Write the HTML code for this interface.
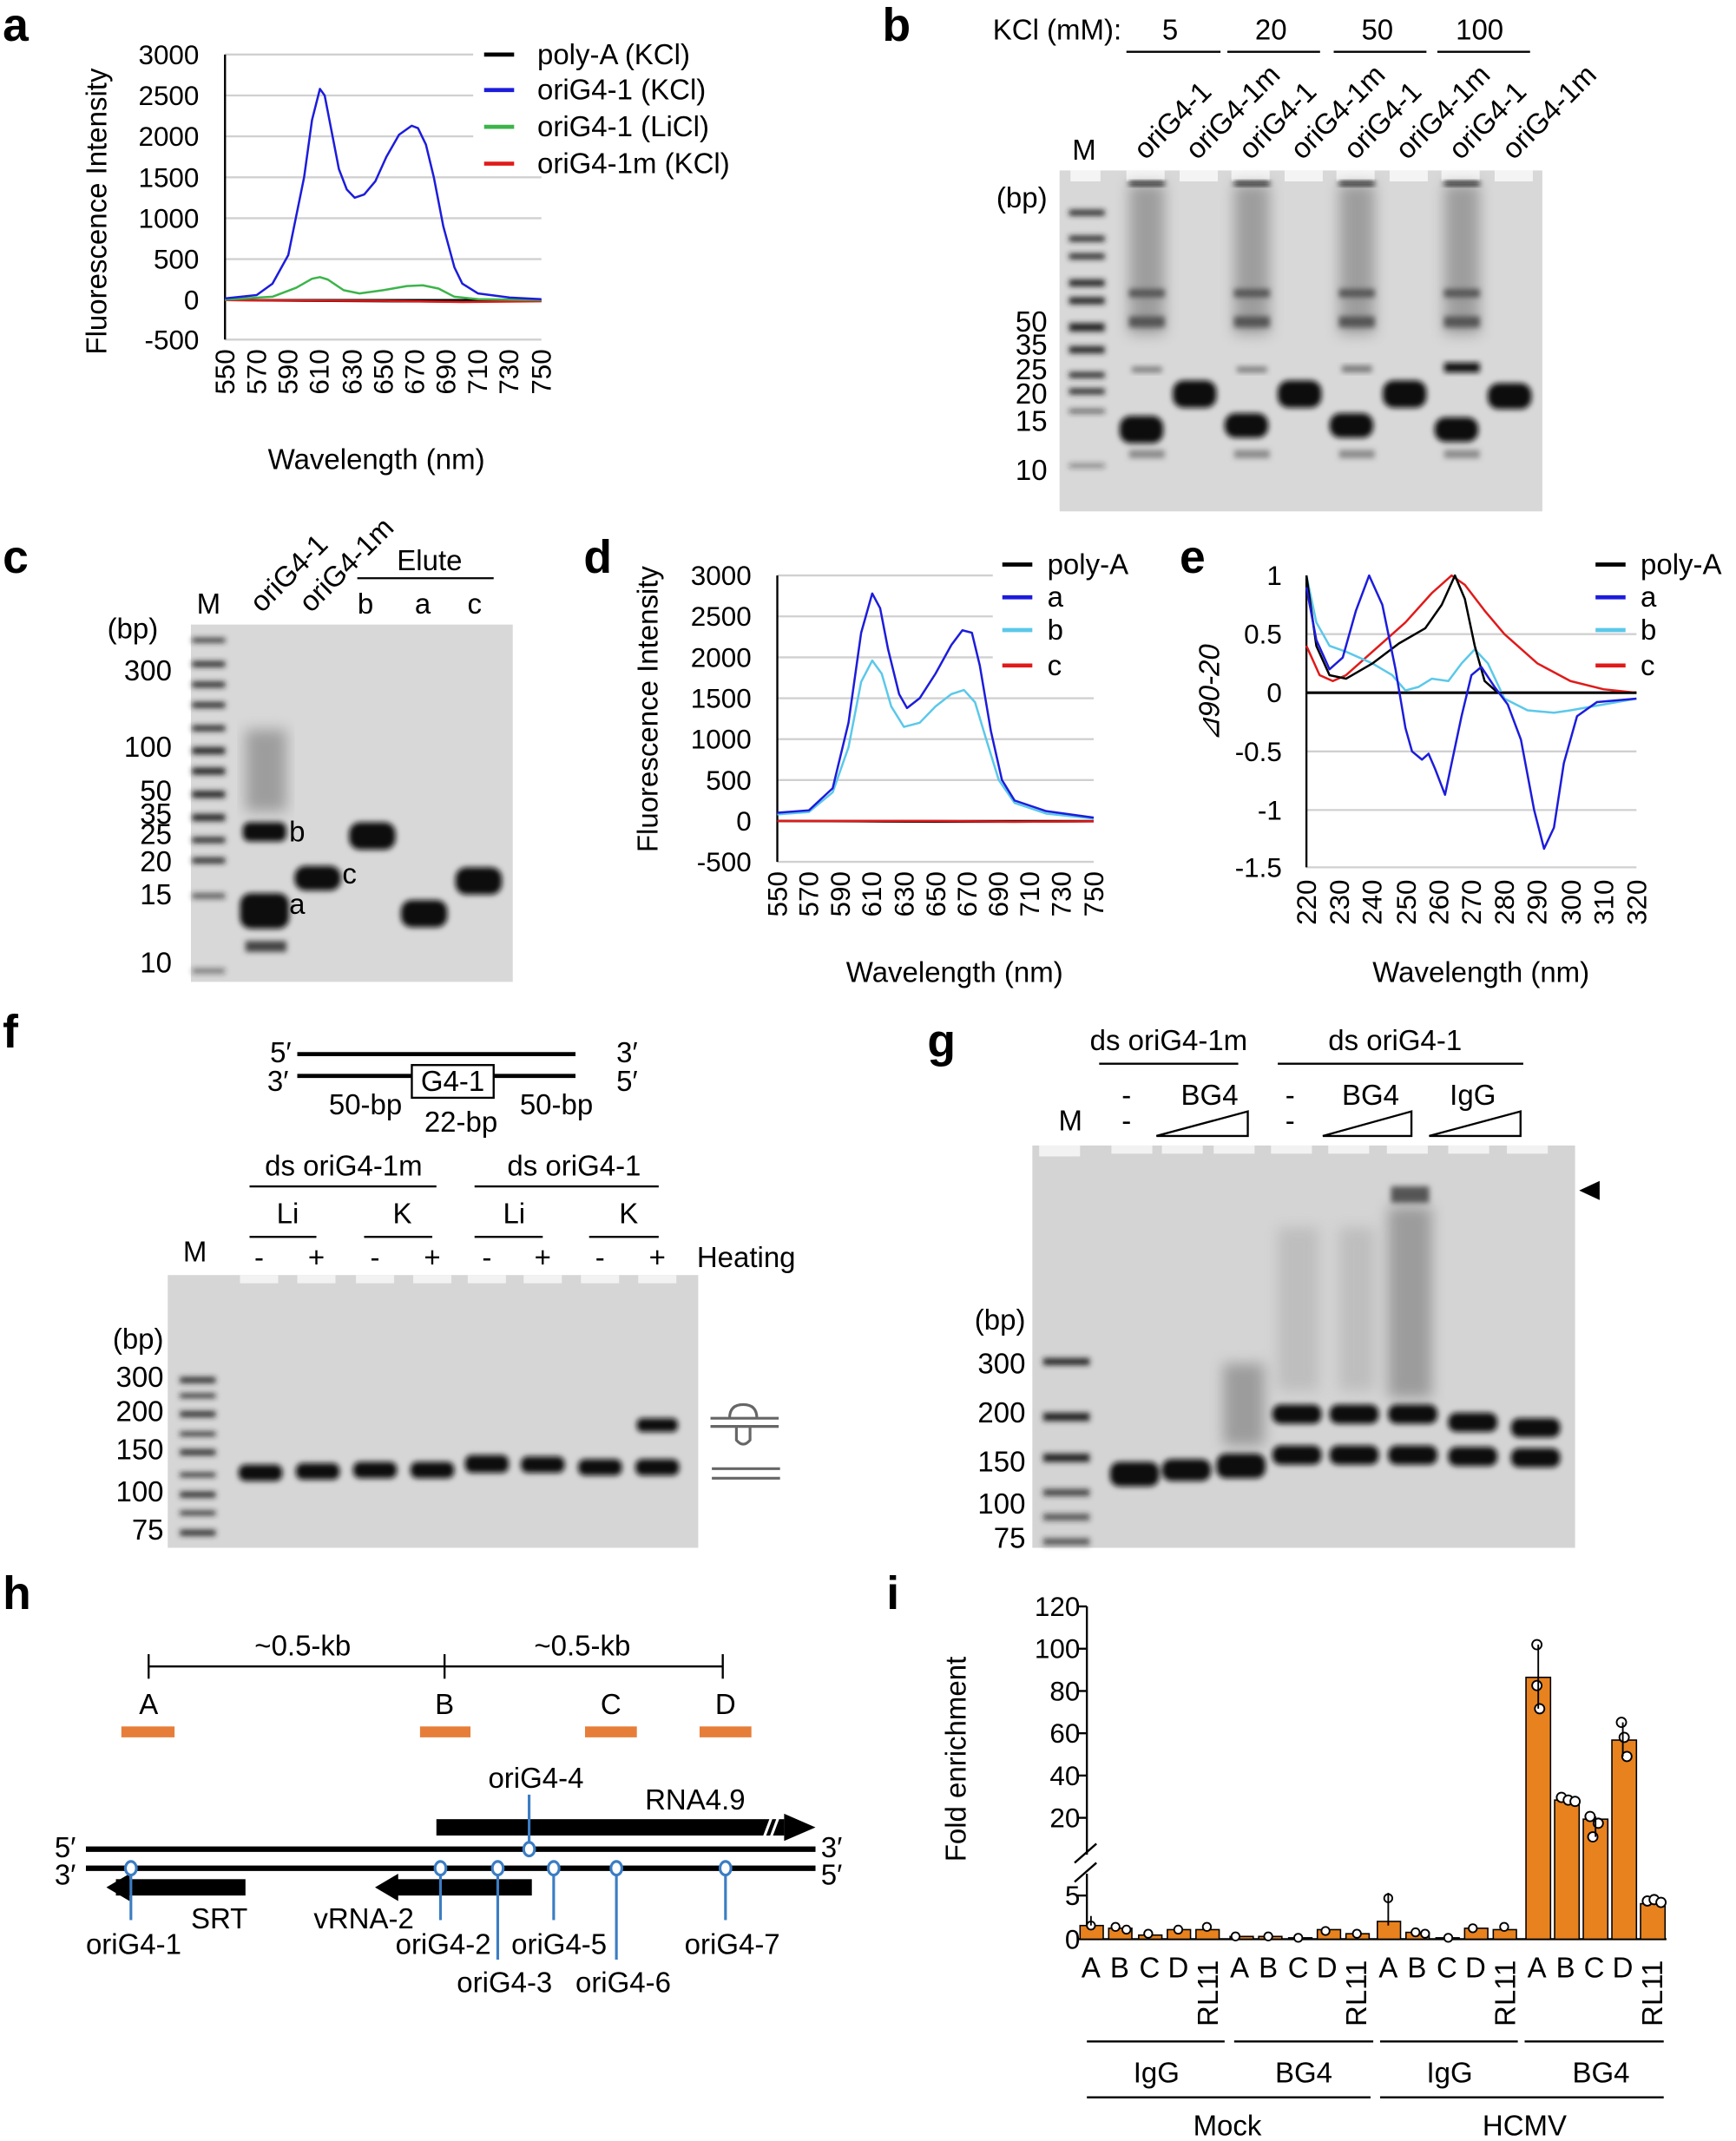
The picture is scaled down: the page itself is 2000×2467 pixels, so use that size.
<!DOCTYPE html>
<html><head><meta charset="utf-8"><style>
html,body{margin:0;padding:0;background:#fff}
svg{display:block}
text{font-family:"Liberation Sans",Arial,sans-serif;fill:#000}
</style></head><body>
<svg width="2000" height="2467" viewBox="0 0 1273 1570" preserveAspectRatio="none" xmlns="http://www.w3.org/2000/svg">
<defs>
<filter id="bl" x="-20%" y="-50%" width="140%" height="200%"><feGaussianBlur stdDeviation="2"/></filter>
<filter id="bl2" x="-20%" y="-20%" width="140%" height="140%"><feGaussianBlur stdDeviation="5"/></filter>
</defs>
<style>
.pl{font-size:34px;font-weight:bold}
.t{font-size:21px}
.s{font-size:20px}
.g{stroke:#d0d0d0;stroke-width:1.5}
.ax{stroke:#000;stroke-width:1.5;fill:none}
.c{fill:none;stroke-width:2.5;vector-effect:non-scaling-stroke;stroke-linejoin:round}
.bd{fill:#111;filter:url(#bl)}
.lad{fill:#222;filter:url(#bl)}
.sm{fill:#777;filter:url(#bl2);opacity:.6}
.bl{font-size:21px;fill:#3b7dc4}
</style>

<!-- ============ Panel a ============ -->
<text class="pl" x="2" y="30">a</text>
<g class="g">
<line x1="165" y1="40" x2="347" y2="40"/><line x1="165" y1="70" x2="347" y2="70"/><line x1="165" y1="100" x2="347" y2="100"/><line x1="165" y1="130" x2="397" y2="130"/><line x1="165" y1="160" x2="397" y2="160"/><line x1="165" y1="190" x2="397" y2="190"/><line x1="165" y1="249" x2="397" y2="249"/>
</g>
<g class="s" text-anchor="end">
<text x="146" y="47">3000</text><text x="146" y="77">2500</text><text x="146" y="107">2000</text><text x="146" y="137">1500</text><text x="146" y="167">1000</text><text x="146" y="197">500</text><text x="146" y="227">0</text><text x="146" y="256">-500</text>
</g>
<line class="ax" x1="165" y1="40" x2="165" y2="249"/>
<line class="ax" x1="165" y1="220" x2="397" y2="220"/>
<g class="s" text-anchor="end">
<text transform="translate(172,256) rotate(-90)">550</text><text transform="translate(195,256) rotate(-90)">570</text><text transform="translate(218,256) rotate(-90)">590</text><text transform="translate(241,256) rotate(-90)">610</text><text transform="translate(265,256) rotate(-90)">630</text><text transform="translate(288,256) rotate(-90)">650</text><text transform="translate(311,256) rotate(-90)">670</text><text transform="translate(334,256) rotate(-90)">690</text><text transform="translate(357,256) rotate(-90)">710</text><text transform="translate(380,256) rotate(-90)">730</text><text transform="translate(404,256) rotate(-90)">750</text>
</g>
<text class="t" x="276" y="344" text-anchor="middle">Wavelength (nm)</text>
<text class="t" transform="translate(78,155) rotate(-90)" text-anchor="middle">Fluorescence Intensity</text>
<g transform="matrix(1.16 0 0 -0.06 -473 220)">
<polyline class="c" stroke="#000" points="550,0 600,-10 650,-15 700,-20 750,-10"/>
<polyline class="c" stroke="#e01a1a" points="550,0 650,-10 700,-25 750,-15"/>
<polyline class="c" stroke="#3cb44b" points="550,5 580,40 595,150 605,260 610,280 615,250 625,120 635,80 650,120 665,170 675,180 685,140 695,40 710,10 750,0"/>
<polyline class="c" stroke="#1c1cdc" points="550,20 570,60 580,200 590,550 600,1500 605,2200 610,2580 613,2500 618,2000 622,1600 627,1350 632,1250 638,1290 645,1450 652,1750 660,2020 668,2130 672,2100 677,1900 682,1500 688,900 695,400 700,200 710,80 730,30 750,10"/>
</g>
<g stroke-width="3">
<line x1="355" y1="40" x2="377" y2="40" stroke="#000"/><line x1="355" y1="66" x2="377" y2="66" stroke="#1c1cdc"/><line x1="355" y1="93" x2="377" y2="93" stroke="#3cb44b"/><line x1="355" y1="120" x2="377" y2="120" stroke="#e01a1a"/>
</g>
<g class="t"><text x="394" y="47">poly-A (KCl)</text><text x="394" y="73">oriG4-1 (KCl)</text><text x="394" y="100">oriG4-1 (LiCl)</text><text x="394" y="127">oriG4-1m (KCl)</text></g>

<!-- ============ Panel b ============ -->
<text class="pl" x="647" y="30">b</text>
<text class="t" x="728" y="29">KCl (mM):</text>
<g class="t" text-anchor="middle"><text x="858" y="29">5</text><text x="932" y="29">20</text><text x="1010" y="29">50</text><text x="1085" y="29">100</text></g>
<g stroke="#000" stroke-width="1.5"><line x1="826" y1="38" x2="895" y2="38"/><line x1="900" y1="38" x2="968" y2="38"/><line x1="978" y1="38" x2="1046" y2="38"/><line x1="1054" y1="38" x2="1122" y2="38"/></g>
<text class="t" x="795" y="117" text-anchor="middle">M</text>
<g class="t">
<text transform="translate(840,118) rotate(-45)">oriG4-1</text><text transform="translate(878,118) rotate(-45)">oriG4-1m</text>
<text transform="translate(917,118) rotate(-45)">oriG4-1</text><text transform="translate(955,118) rotate(-45)">oriG4-1m</text>
<text transform="translate(994,118) rotate(-45)">oriG4-1</text><text transform="translate(1032,118) rotate(-45)">oriG4-1m</text>
<text transform="translate(1071,118) rotate(-45)">oriG4-1</text><text transform="translate(1110,118) rotate(-45)">oriG4-1m</text>
</g>
<rect x="777" y="125" width="354" height="250" fill="#d8d8d8"/>
<g fill="#f4f4f4"><rect x="785" y="125" width="22" height="8"/><rect x="826" y="125" width="28" height="8"/><rect x="865" y="125" width="28" height="8"/><rect x="903" y="125" width="28" height="8"/><rect x="942" y="125" width="28" height="8"/><rect x="980" y="125" width="28" height="8"/><rect x="1019" y="125" width="28" height="8"/><rect x="1057" y="125" width="28" height="8"/><rect x="1096" y="125" width="28" height="8"/></g>
<g class="sm"><rect x="828" y="135" width="26" height="110"/><rect x="905" y="135" width="26" height="110"/><rect x="982" y="135" width="26" height="110"/><rect x="1059" y="135" width="26" height="110"/></g>
<g class="bd"><rect x="828" y="133" width="26" height="3"/><rect x="905" y="133" width="26" height="3"/><rect x="982" y="133" width="26" height="3"/><rect x="1059" y="133" width="26" height="3"/></g>
<g fill="#555" filter="url(#bl)"><rect x="828" y="212" width="26" height="6"/><rect x="828" y="232" width="26" height="8"/><rect x="905" y="212" width="26" height="6"/><rect x="905" y="232" width="26" height="8"/><rect x="982" y="212" width="26" height="6"/><rect x="982" y="232" width="26" height="8"/><rect x="1059" y="212" width="26" height="6"/><rect x="1059" y="232" width="26" height="8"/>
<rect x="828" y="330" width="26" height="6" opacity=".6"/><rect x="905" y="330" width="26" height="6" opacity=".6"/><rect x="982" y="330" width="26" height="6" opacity=".6"/><rect x="1059" y="330" width="26" height="6" opacity=".6"/></g>
<g fill="#777" filter="url(#bl)"><rect x="830" y="269" width="22" height="4"/><rect x="907" y="269" width="22" height="4"/><rect x="984" y="268" width="22" height="5"/></g>
<rect x="1059" y="266" width="26" height="7" class="bd"/>
<g class="bd"><rect x="821" y="305" width="32" height="20" rx="8"/><rect x="898" y="303" width="32" height="18" rx="8"/><rect x="975" y="303" width="32" height="18" rx="8"/><rect x="1052" y="306" width="32" height="18" rx="8"/>
<rect x="860" y="279" width="32" height="20" rx="8"/><rect x="937" y="279" width="32" height="20" rx="8"/><rect x="1014" y="279" width="32" height="20" rx="8"/><rect x="1091" y="281" width="32" height="19" rx="8"/></g>
<g class="lad"><rect x="784" y="154" width="26" height="4"/><rect x="784" y="173" width="26" height="4"/><rect x="784" y="186" width="26" height="4"/><rect x="784" y="205" width="26" height="5"/><rect x="784" y="218" width="26" height="5"/><rect x="784" y="237" width="26" height="6"/><rect x="784" y="254" width="26" height="5"/><rect x="784" y="273" width="26" height="4"/><rect x="784" y="285" width="26" height="4"/><rect x="784" y="300" width="26" height="3" opacity=".7"/><rect x="784" y="340" width="26" height="3" opacity=".5"/></g>
<g class="t" text-anchor="end"><text x="768" y="152">(bp)</text><text x="768" y="243">50</text><text x="768" y="260">35</text><text x="768" y="278">25</text><text x="768" y="296">20</text><text x="768" y="316">15</text><text x="768" y="352">10</text></g>

<!-- ============ Panel c ============ -->
<text class="pl" x="2" y="420">c</text>
<text class="t" x="153" y="450" text-anchor="middle">M</text>
<text class="t" transform="translate(192,450) rotate(-45)">oriG4-1</text>
<text class="t" transform="translate(228,450) rotate(-45)">oriG4-1m</text>
<text class="t" x="315" y="418" text-anchor="middle">Elute</text>
<line x1="262" y1="424" x2="362" y2="424" stroke="#000" stroke-width="1.5"/>
<g class="t" text-anchor="middle"><text x="268" y="450">b</text><text x="310" y="450">a</text><text x="348" y="450">c</text></g>
<rect x="140" y="458" width="236" height="262" fill="#d8d8d8"/>
<g class="lad"><rect x="141" y="468" width="24" height="3"/><rect x="141" y="485" width="24" height="4"/><rect x="141" y="500" width="24" height="4"/><rect x="141" y="515" width="24" height="4"/><rect x="141" y="532" width="24" height="4"/><rect x="141" y="548" width="24" height="5"/><rect x="141" y="563" width="24" height="5"/><rect x="141" y="580" width="24" height="5"/><rect x="141" y="597" width="24" height="5"/><rect x="141" y="614" width="24" height="4"/><rect x="141" y="629" width="24" height="4"/><rect x="141" y="655" width="24" height="4" opacity=".7"/><rect x="141" y="710" width="24" height="4" opacity=".5"/></g>
<rect x="180" y="535" width="30" height="60" class="sm"/>
<g class="bd"><rect x="178" y="603" width="32" height="14" rx="5"/><rect x="176" y="655" width="36" height="26" rx="8"/><rect x="216" y="635" width="34" height="18" rx="8"/><rect x="256" y="603" width="34" height="20" rx="8"/><rect x="294" y="660" width="34" height="20" rx="8"/><rect x="334" y="636" width="34" height="20" rx="8"/></g>
<rect x="180" y="690" width="30" height="8" fill="#444" filter="url(#bl)"/>
<text class="t" x="212" y="617">b</text><text class="t" x="212" y="670">a</text><text class="t" x="251" y="648">c</text>
<g class="t" text-anchor="end"><text x="116" y="468">(bp)</text><text x="126" y="499">300</text><text x="126" y="555">100</text><text x="126" y="587">50</text><text x="126" y="604">35</text><text x="126" y="619">25</text><text x="126" y="639">20</text><text x="126" y="663">15</text><text x="126" y="713">10</text></g>

<!-- ============ Panel d ============ -->
<text class="pl" x="428" y="420">d</text>
<g class="g"><line x1="570" y1="422" x2="728" y2="422"/><line x1="570" y1="452" x2="728" y2="452"/><line x1="570" y1="482" x2="728" y2="482"/><line x1="570" y1="512" x2="802" y2="512"/><line x1="570" y1="542" x2="802" y2="542"/><line x1="570" y1="572" x2="802" y2="572"/><line x1="570" y1="632" x2="802" y2="632"/></g>
<g class="s" text-anchor="end"><text x="551" y="429">3000</text><text x="551" y="459">2500</text><text x="551" y="489">2000</text><text x="551" y="519">1500</text><text x="551" y="549">1000</text><text x="551" y="579">500</text><text x="551" y="609">0</text><text x="551" y="639">-500</text></g>
<line class="ax" x1="570" y1="422" x2="570" y2="632"/><line class="ax" x1="570" y1="602" x2="802" y2="602"/>
<g class="s" text-anchor="end">
<text transform="translate(577,639) rotate(-90)">550</text><text transform="translate(600,639) rotate(-90)">570</text><text transform="translate(623,639) rotate(-90)">590</text><text transform="translate(646,639) rotate(-90)">610</text><text transform="translate(670,639) rotate(-90)">630</text><text transform="translate(693,639) rotate(-90)">650</text><text transform="translate(716,639) rotate(-90)">670</text><text transform="translate(739,639) rotate(-90)">690</text><text transform="translate(762,639) rotate(-90)">710</text><text transform="translate(785,639) rotate(-90)">730</text><text transform="translate(809,639) rotate(-90)">750</text>
</g>
<text class="t" x="700" y="720" text-anchor="middle">Wavelength (nm)</text>
<text class="t" transform="translate(482,520) rotate(-90)" text-anchor="middle">Fluorescence Intensity</text>
<g transform="matrix(1.16 0 0 -0.06 -68 602)">
<polyline class="c" stroke="#000" points="550,0 600,-5 650,-10 700,-10 750,-5"/>
<polyline class="c" stroke="#e01a1a" points="550,0 650,0 700,-10 750,-5"/>
<polyline class="c" stroke="#5bc8ea" points="550,80 570,110 585,350 595,900 603,1700 610,1960 616,1800 622,1400 630,1150 640,1200 650,1400 660,1550 668,1600 675,1450 682,1000 690,500 700,220 720,90 750,30"/>
<polyline class="c" stroke="#1c1cdc" points="550,100 570,130 585,400 595,1200 603,2300 610,2780 615,2600 620,2100 627,1550 632,1380 640,1500 650,1800 660,2150 667,2330 673,2300 678,1900 685,1100 692,500 700,250 720,120 750,40"/>
</g>
<g stroke-width="3"><line x1="735" y1="414" x2="757" y2="414" stroke="#000"/><line x1="735" y1="438" x2="757" y2="438" stroke="#1c1cdc"/><line x1="735" y1="462" x2="757" y2="462" stroke="#5bc8ea"/><line x1="735" y1="488" x2="757" y2="488" stroke="#e01a1a"/></g>
<g class="t"><text x="768" y="421">poly-A</text><text x="768" y="445">a</text><text x="768" y="469">b</text><text x="768" y="495">c</text></g>

<!-- ============ Panel e ============ -->
<text class="pl" x="865" y="420">e</text>
<g class="g"><line x1="958" y1="465" x2="1200" y2="465"/><line x1="958" y1="551" x2="1200" y2="551"/><line x1="958" y1="594" x2="1200" y2="594"/><line x1="958" y1="636" x2="1200" y2="636"/></g>
<g class="s" text-anchor="end"><text x="940" y="429">1</text><text x="940" y="472">0.5</text><text x="940" y="515">0</text><text x="940" y="558">-0.5</text><text x="940" y="601">-1</text><text x="940" y="643">-1.5</text></g>
<line class="ax" x1="958" y1="422" x2="958" y2="636"/><line x1="958" y1="508" x2="1200" y2="508" stroke="#000" stroke-width="2"/>
<g class="s" text-anchor="end">
<text transform="translate(965,645) rotate(-90)">220</text><text transform="translate(989,645) rotate(-90)">230</text><text transform="translate(1013,645) rotate(-90)">240</text><text transform="translate(1038,645) rotate(-90)">250</text><text transform="translate(1062,645) rotate(-90)">260</text><text transform="translate(1086,645) rotate(-90)">270</text><text transform="translate(1110,645) rotate(-90)">280</text><text transform="translate(1134,645) rotate(-90)">290</text><text transform="translate(1159,645) rotate(-90)">300</text><text transform="translate(1183,645) rotate(-90)">310</text><text transform="translate(1207,645) rotate(-90)">320</text>
</g>
<text class="t" x="1086" y="720" text-anchor="middle">Wavelength (nm)</text>
<text class="t" transform="translate(894,508) rotate(-90)" text-anchor="middle" font-style="italic">⊿90-20</text>
<g transform="matrix(2.42 0 0 -86 425.6 508)">
<polyline class="c" stroke="#e01a1a" points="220,0.4 224,0.15 228,0.1 232,0.15 240,0.35 250,0.6 258,0.85 264,1 268,0.92 274,0.7 280,0.5 290,0.25 300,0.1 310,0.03 320,0"/>
<polyline class="c" stroke="#5bc8ea" points="220,1 223,0.6 227,0.4 232,0.35 240,0.25 246,0.15 250,0.02 254,0.05 258,0.12 263,0.1 267,0.25 271,0.37 275,0.25 280,-0.05 287,-0.15 295,-0.17 300,-0.15 310,-0.1 320,-0.05"/>
<polyline class="c" stroke="#000" points="220,1 223,0.4 227,0.15 232,0.12 240,0.25 248,0.42 256,0.55 261,0.75 265,1 268,0.8 271,0.4 274,0.1 278,0 290,0 320,0"/>
<polyline class="c" stroke="#1c1cdc" points="220,0.9 223,0.45 227,0.2 231,0.3 235,0.7 239,1 243,0.75 247,0.2 250,-0.3 252,-0.5 255,-0.57 257,-0.52 259,-0.65 262,-0.87 264,-0.6 267,-0.2 270,0.15 273,0.22 277,0.05 281,-0.1 285,-0.4 289,-1.0 292,-1.33 295,-1.15 298,-0.6 302,-0.2 308,-0.08 320,-0.05"/>
</g>
<g stroke-width="3"><line x1="1170" y1="414" x2="1192" y2="414" stroke="#000"/><line x1="1170" y1="438" x2="1192" y2="438" stroke="#1c1cdc"/><line x1="1170" y1="462" x2="1192" y2="462" stroke="#5bc8ea"/><line x1="1170" y1="488" x2="1192" y2="488" stroke="#e01a1a"/></g>
<g class="t"><text x="1203" y="421">poly-A</text><text x="1203" y="445">a</text><text x="1203" y="469">b</text><text x="1203" y="495">c</text></g>

<!-- ============ Panel f ============ -->
<text class="pl" x="2" y="768">f</text>
<g stroke="#000" stroke-width="3"><line x1="218" y1="773" x2="422" y2="773"/><line x1="218" y1="789" x2="302" y2="789"/><line x1="362" y1="789" x2="422" y2="789"/></g>
<rect x="302" y="781" width="60" height="24" fill="#fff" stroke="#000" stroke-width="1.5"/>
<text class="t" x="332" y="800" text-anchor="middle">G4-1</text>
<g class="t"><text x="198" y="779">5′</text><text x="196" y="800">3′</text><text x="452" y="779">3′</text><text x="452" y="800">5′</text>
<text x="268" y="817" text-anchor="middle">50-bp</text><text x="338" y="830" text-anchor="middle">22-bp</text><text x="408" y="817" text-anchor="middle">50-bp</text>
<text x="252" y="862" text-anchor="middle">ds oriG4-1m</text><text x="421" y="862" text-anchor="middle">ds oriG4-1</text>
<text x="211" y="897" text-anchor="middle">Li</text><text x="295" y="897" text-anchor="middle">K</text><text x="377" y="897" text-anchor="middle">Li</text><text x="461" y="897" text-anchor="middle">K</text>
<text x="143" y="925" text-anchor="middle">M</text><text x="511" y="929">Heating</text></g>
<g stroke="#000" stroke-width="1.5"><line x1="183" y1="870" x2="320" y2="870"/><line x1="348" y1="870" x2="483" y2="870"/><line x1="183" y1="907" x2="232" y2="907"/><line x1="267" y1="907" x2="317" y2="907"/><line x1="348" y1="907" x2="398" y2="907"/><line x1="432" y1="907" x2="483" y2="907"/></g>
<g class="t" text-anchor="middle"><text x="190" y="929">-</text><text x="232" y="929">+</text><text x="275" y="929">-</text><text x="317" y="929">+</text><text x="357" y="929">-</text><text x="398" y="929">+</text><text x="440" y="929">-</text><text x="482" y="929">+</text></g>
<rect x="123" y="935" width="389" height="200" fill="#d6d6d6"/>
<g fill="#f2f2f2"><rect x="176" y="935" width="28" height="6"/><rect x="218" y="935" width="28" height="6"/><rect x="261" y="935" width="28" height="6"/><rect x="303" y="935" width="28" height="6"/><rect x="343" y="935" width="28" height="6"/><rect x="384" y="935" width="28" height="6"/><rect x="426" y="935" width="28" height="6"/><rect x="468" y="935" width="28" height="6"/></g>
<g class="lad"><rect x="132" y="1010" width="26" height="4"/><rect x="132" y="1022" width="26" height="3"/><rect x="132" y="1035" width="26" height="4"/><rect x="132" y="1050" width="26" height="3"/><rect x="132" y="1063" width="26" height="4"/><rect x="132" y="1080" width="26" height="3"/><rect x="132" y="1094" width="26" height="4"/><rect x="132" y="1108" width="26" height="3"/><rect x="132" y="1122" width="26" height="4"/></g>
<g class="bd"><rect x="175" y="1074" width="32" height="12" rx="5"/><rect x="217" y="1073" width="32" height="12" rx="5"/><rect x="259" y="1072" width="32" height="12" rx="5"/><rect x="301" y="1072" width="32" height="12" rx="5"/><rect x="341" y="1067" width="32" height="13" rx="5"/><rect x="382" y="1068" width="32" height="12" rx="5"/><rect x="424" y="1070" width="32" height="12" rx="5"/><rect x="466" y="1070" width="32" height="12" rx="5"/><rect x="467" y="1040" width="30" height="10" rx="4"/></g>
<g class="t" text-anchor="end"><text x="120" y="989">(bp)</text><text x="120" y="1017">300</text><text x="120" y="1042">200</text><text x="120" y="1070">150</text><text x="120" y="1101">100</text><text x="120" y="1129">75</text></g>
<g stroke="#666" stroke-width="2" fill="none"><line x1="521" y1="1040" x2="571" y2="1040"/><line x1="521" y1="1046" x2="571" y2="1046"/><path d="M535 1040 q0 -10 10 -10 q10 0 10 10"/><path d="M540 1046 l0 10 q5 6 10 0 l0 -10"/><line x1="522" y1="1077" x2="572" y2="1077"/><line x1="522" y1="1084" x2="572" y2="1084"/></g>

<!-- ============ Panel g ============ -->
<text class="pl" x="680" y="775">g</text>
<g class="t" text-anchor="middle"><text x="857" y="770">ds oriG4-1m</text><text x="1023" y="770">ds oriG4-1</text>
<text x="826" y="810">-</text><text x="826" y="829">-</text><text x="887" y="810">BG4</text><text x="946" y="810">-</text><text x="946" y="829">-</text><text x="1005" y="810">BG4</text><text x="1080" y="810">IgG</text><text x="785" y="829">M</text></g>
<g stroke="#000" stroke-width="1.5" fill="none"><line x1="806" y1="780" x2="908" y2="780"/><line x1="937" y1="780" x2="1117" y2="780"/>
<path d="M848 833 L915 833 L915 815 Z"/><path d="M970 833 L1035 833 L1035 815 Z"/><path d="M1048 833 L1115 833 L1115 815 Z"/></g>
<rect x="757" y="840" width="398" height="295" fill="#d4d4d4"/>
<g fill="#f2f2f2"><rect x="762" y="840" width="30" height="8"/><rect x="815" y="840" width="30" height="6"/><rect x="852" y="840" width="30" height="6"/><rect x="890" y="840" width="30" height="6"/><rect x="932" y="840" width="30" height="6"/><rect x="974" y="840" width="30" height="6"/><rect x="1017" y="840" width="30" height="6"/><rect x="1062" y="840" width="30" height="6"/><rect x="1105" y="840" width="30" height="6"/></g>
<g class="sm"><rect x="937" y="900" width="30" height="120" opacity=".4"/><rect x="982" y="900" width="26" height="120" opacity=".4"/><rect x="1018" y="885" width="32" height="140"/><rect x="897" y="1000" width="30" height="60"/></g>
<rect x="1020" y="870" width="28" height="12" fill="#555" filter="url(#bl)"/>
<g class="lad"><rect x="765" y="996" width="34" height="5"/><rect x="765" y="1036" width="34" height="6"/><rect x="765" y="1066" width="34" height="6"/><rect x="765" y="1092" width="34" height="5" opacity=".8"/><rect x="765" y="1110" width="34" height="5" opacity=".7"/><rect x="765" y="1128" width="34" height="5" opacity=".7"/></g>
<g class="bd"><rect x="814" y="1072" width="36" height="18" rx="7"/><rect x="852" y="1070" width="36" height="16" rx="7"/><rect x="892" y="1066" width="36" height="18" rx="7"/>
<rect x="933" y="1030" width="36" height="14" rx="6"/><rect x="933" y="1060" width="36" height="14" rx="6"/><rect x="975" y="1030" width="36" height="14" rx="6"/><rect x="975" y="1060" width="36" height="14" rx="6"/><rect x="1018" y="1030" width="36" height="14" rx="6"/><rect x="1018" y="1060" width="36" height="14" rx="6"/><rect x="1062" y="1036" width="36" height="14" rx="6"/><rect x="1062" y="1061" width="36" height="14" rx="6"/><rect x="1108" y="1040" width="36" height="14" rx="6"/><rect x="1108" y="1062" width="36" height="14" rx="6"/></g>
<g class="t" text-anchor="end"><text x="752" y="975">(bp)</text><text x="752" y="1007">300</text><text x="752" y="1043">200</text><text x="752" y="1079">150</text><text x="752" y="1110">100</text><text x="752" y="1135">75</text></g>
<path d="M1158 873 L1173 866 L1173 880 Z" fill="#000"/>

<!-- ============ Panel h ============ -->
<text class="pl" x="2" y="1180">h</text>
<g stroke="#000" stroke-width="1.5"><line x1="109" y1="1222" x2="530" y2="1222"/><line x1="109" y1="1213" x2="109" y2="1231"/><line x1="326" y1="1213" x2="326" y2="1231"/><line x1="530" y1="1213" x2="530" y2="1231"/></g>
<g class="t" text-anchor="middle"><text x="222" y="1214">~0.5-kb</text><text x="427" y="1214">~0.5-kb</text>
<text x="109" y="1257">A</text><text x="326" y="1257">B</text><text x="448" y="1257">C</text><text x="532" y="1257">D</text></g>
<g fill="#e67e3a"><rect x="89" y="1266" width="39" height="8"/><rect x="308" y="1266" width="37" height="8"/><rect x="429" y="1266" width="38" height="8"/><rect x="513" y="1266" width="38" height="8"/></g>
<g fill="#000"><rect x="320" y="1334" width="255" height="12"/><path d="M575 1330 L598 1340 L575 1350 Z"/><rect x="85" y="1378" width="95" height="12"/><path d="M78 1384 L95 1374 L95 1394 Z"/><rect x="290" y="1378" width="100" height="12"/><path d="M275 1384 L292 1374 L292 1394 Z"/>
<rect x="63" y="1354" width="535" height="4"/><rect x="63" y="1368" width="535" height="4"/></g>
<g stroke="#fff" stroke-width="2"><line x1="560" y1="1348" x2="566" y2="1332"/><line x1="565" y1="1348" x2="571" y2="1332"/></g>
<g class="t"><text x="473" y="1327">RNA4.9</text><text x="140" y="1414">SRT</text><text x="230" y="1414">vRNA-2</text><text x="40" y="1362">5′</text><text x="40" y="1382">3′</text><text x="602" y="1362">3′</text><text x="602" y="1382">5′</text></g>
<g stroke="#3b7dc4" stroke-width="2" fill="#fff">
<line x1="96" y1="1370" x2="96" y2="1408"/><line x1="388" y1="1356" x2="388" y2="1316"/><line x1="323" y1="1370" x2="323" y2="1408"/><line x1="365" y1="1370" x2="365" y2="1437"/><line x1="406" y1="1370" x2="406" y2="1408"/><line x1="452" y1="1370" x2="452" y2="1437"/><line x1="532" y1="1370" x2="532" y2="1408"/>
<ellipse cx="96" cy="1370" rx="4" ry="5"/><ellipse cx="388" cy="1356" rx="4" ry="5"/><ellipse cx="323" cy="1370" rx="4" ry="5"/><ellipse cx="365" cy="1370" rx="4" ry="5"/><ellipse cx="406" cy="1370" rx="4" ry="5"/><ellipse cx="452" cy="1370" rx="4" ry="5"/><ellipse cx="532" cy="1370" rx="4" ry="5"/></g>
<g class="bl" text-anchor="middle"><text x="98" y="1433">oriG4-1</text><text x="393" y="1311">oriG4-4</text><text x="325" y="1433">oriG4-2</text><text x="370" y="1461">oriG4-3</text><text x="410" y="1433">oriG4-5</text><text x="457" y="1461">oriG4-6</text><text x="537" y="1433">oriG4-7</text></g>

<!-- ============ Panel i ============ -->
<text class="pl" x="650" y="1180">i</text>
<g class="s" text-anchor="end"><text x="792" y="1185">120</text><text x="792" y="1216">100</text><text x="792" y="1247">80</text><text x="792" y="1278">60</text><text x="792" y="1309">40</text><text x="792" y="1340">20</text><text x="792" y="1397">5</text><text x="792" y="1429">0</text></g>
<g stroke="#000" stroke-width="1.5"><line x1="797" y1="1178" x2="797" y2="1360"/><line x1="797" y1="1374" x2="797" y2="1422"/><line x1="790" y1="1178" x2="797" y2="1178"/><line x1="790" y1="1209" x2="797" y2="1209"/><line x1="790" y1="1240" x2="797" y2="1240"/><line x1="790" y1="1271" x2="797" y2="1271"/><line x1="790" y1="1302" x2="797" y2="1302"/><line x1="790" y1="1333" x2="797" y2="1333"/><line x1="790" y1="1390" x2="797" y2="1390"/><line x1="790" y1="1422" x2="797" y2="1422"/><line x1="797" y1="1422" x2="1222" y2="1422"/>
<line x1="788" y1="1366" x2="804" y2="1352"/><line x1="788" y1="1380" x2="804" y2="1366"/></g>
<text class="t" transform="translate(708,1290) rotate(-90)" text-anchor="middle">Fold enrichment</text>
<g fill="#e8821e" stroke="#000" stroke-width="1">
<rect x="792" y="1412" width="17" height="10"/><rect x="813" y="1414" width="17" height="8"/><rect x="835" y="1419" width="17" height="3"/><rect x="856" y="1415" width="17" height="7"/><rect x="877" y="1415" width="17" height="7"/>
<rect x="902" y="1420" width="17" height="2"/><rect x="923" y="1420" width="17" height="2"/><rect x="945" y="1421" width="17" height="1"/><rect x="966" y="1415" width="17" height="7"/><rect x="987" y="1418" width="17" height="4"/>
<rect x="1010" y="1409" width="17" height="13"/><rect x="1031" y="1417" width="17" height="5"/><rect x="1053" y="1421" width="17" height="1"/><rect x="1074" y="1414" width="17" height="8"/><rect x="1095" y="1415" width="17" height="7"/>
<rect x="1119" y="1230" width="18" height="192"/><rect x="1140" y="1320" width="18" height="102"/><rect x="1161" y="1334" width="18" height="88"/><rect x="1182" y="1276" width="18" height="146"/><rect x="1203" y="1396" width="18" height="26"/></g>
<g fill="#fff" stroke="#000" stroke-width="1.2">
<circle cx="1127" cy="1206" r="3.5"/><circle cx="1127" cy="1236" r="3.5"/><circle cx="1129" cy="1253" r="3.5"/><circle cx="1145" cy="1318" r="3.5"/><circle cx="1150" cy="1320" r="3.5"/><circle cx="1155" cy="1321" r="3.5"/><circle cx="1166" cy="1332" r="3.5"/><circle cx="1172" cy="1337" r="3.5"/><circle cx="1168" cy="1347" r="3.5"/><circle cx="1189" cy="1263" r="3.5"/><circle cx="1191" cy="1274" r="3.5"/><circle cx="1193" cy="1288" r="3.5"/><circle cx="1208" cy="1394" r="3.5"/><circle cx="1213" cy="1393" r="3.5"/><circle cx="1218" cy="1395" r="3.5"/>
<circle cx="800" cy="1412" r="3"/><circle cx="818" cy="1413" r="3"/><circle cx="826" cy="1415" r="3"/><circle cx="842" cy="1418" r="3"/><circle cx="864" cy="1415" r="3"/><circle cx="885" cy="1413" r="3"/><circle cx="906" cy="1420" r="3"/><circle cx="930" cy="1420" r="3"/><circle cx="952" cy="1421" r="3"/><circle cx="972" cy="1416" r="3"/><circle cx="995" cy="1418" r="3"/><circle cx="1018" cy="1392" r="3"/><circle cx="1038" cy="1417" r="3"/><circle cx="1045" cy="1418" r="3"/><circle cx="1062" cy="1421" r="3"/><circle cx="1080" cy="1414" r="3"/><circle cx="1103" cy="1413" r="3"/></g>
<g stroke="#000" stroke-width="1.2"><line x1="1128" y1="1206" x2="1128" y2="1253"/><line x1="1190" y1="1263" x2="1190" y2="1288"/><line x1="1170" y1="1332" x2="1170" y2="1347"/><line x1="1018" y1="1388" x2="1018" y2="1412"/><line x1="800" y1="1405" x2="800" y2="1412"/></g>
<g class="t" text-anchor="middle">
<text x="800" y="1450">A</text><text x="821" y="1450">B</text><text x="843" y="1450">C</text><text x="864" y="1450">D</text>
<text x="909" y="1450">A</text><text x="930" y="1450">B</text><text x="952" y="1450">C</text><text x="973" y="1450">D</text>
<text x="1018" y="1450">A</text><text x="1039" y="1450">B</text><text x="1061" y="1450">C</text><text x="1082" y="1450">D</text>
<text x="1127" y="1450">A</text><text x="1148" y="1450">B</text><text x="1169" y="1450">C</text><text x="1190" y="1450">D</text></g>
<g class="t"><text transform="translate(893,1486) rotate(-90)">RL11</text><text transform="translate(1002,1486) rotate(-90)">RL11</text><text transform="translate(1111,1486) rotate(-90)">RL11</text><text transform="translate(1219,1486) rotate(-90)">RL11</text></g>
<g stroke="#000" stroke-width="1.5"><line x1="797" y1="1497" x2="898" y2="1497"/><line x1="905" y1="1497" x2="1007" y2="1497"/><line x1="1012" y1="1497" x2="1113" y2="1497"/><line x1="1118" y1="1497" x2="1220" y2="1497"/><line x1="797" y1="1538" x2="1005" y2="1538"/><line x1="1012" y1="1538" x2="1220" y2="1538"/></g>
<g class="t" text-anchor="middle"><text x="848" y="1527">IgG</text><text x="956" y="1527">BG4</text><text x="1063" y="1527">IgG</text><text x="1174" y="1527">BG4</text><text x="900" y="1566">Mock</text><text x="1118" y="1566">HCMV</text></g>
</svg>
</body></html>
